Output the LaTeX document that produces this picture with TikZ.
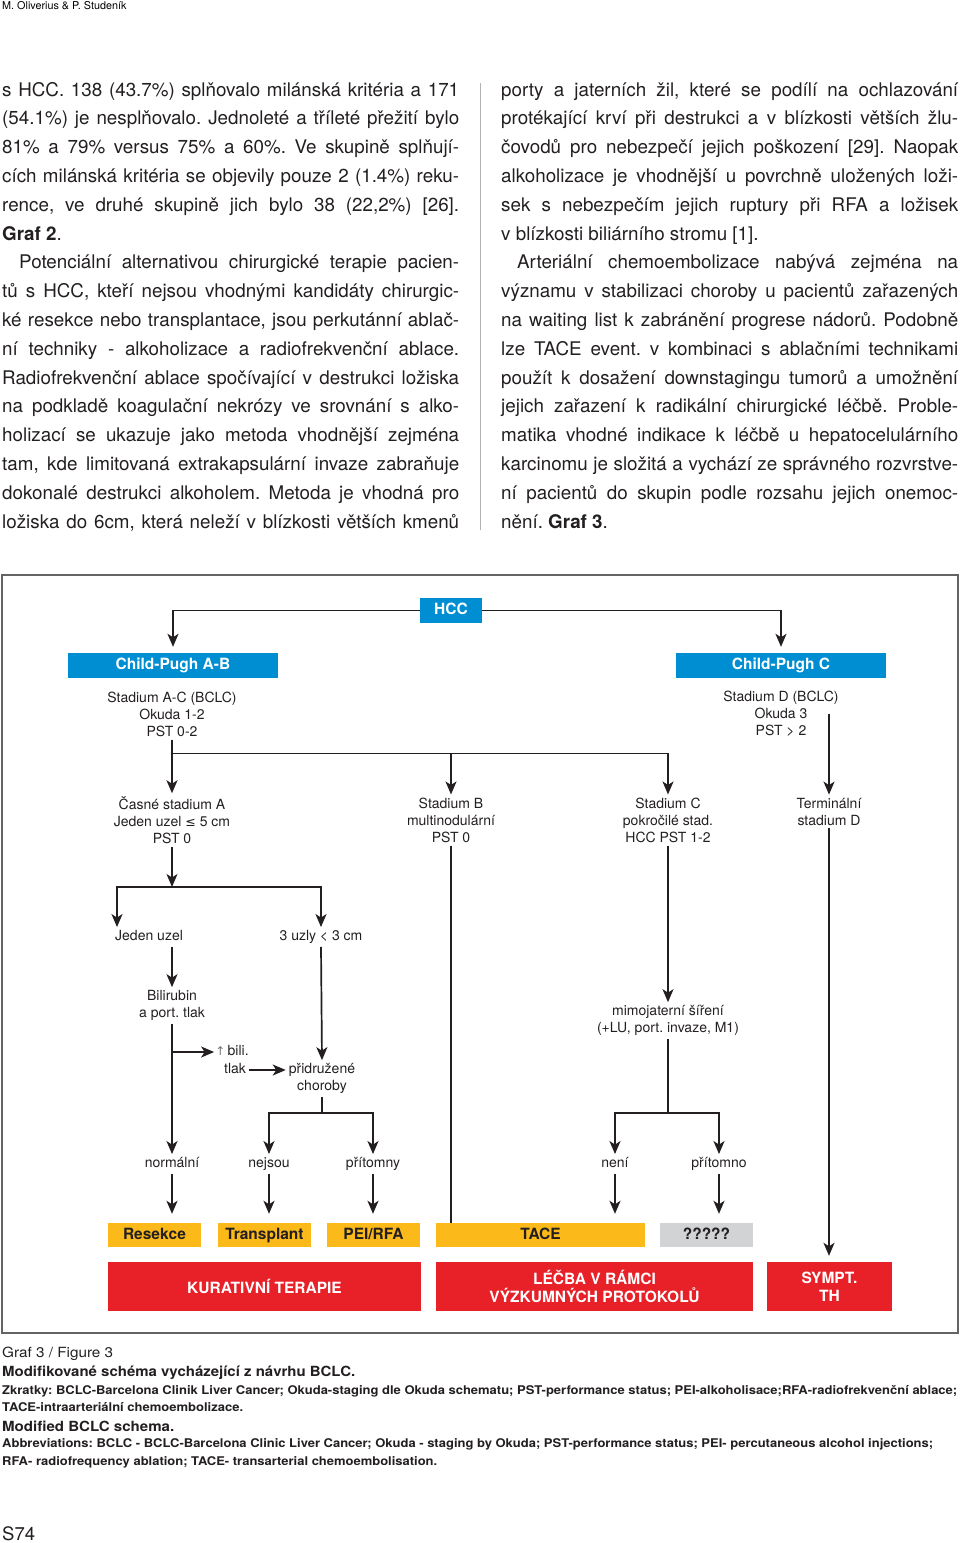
\documentclass[tikz,border=0pt]{standalone}
\usepackage{fontspec}
\setmainfont{TeX Gyre Heros}
\newfontfamily\symfont{DejaVu Sans}
\usepackage{xcolor}
\usepackage{graphicx}
\usetikzlibrary{arrows.meta, positioning, calc}

\definecolor{cpblue}{RGB}{0,142,211}
\definecolor{tyellow}{RGB}{251,185,26}
\definecolor{tred}{RGB}{232,32,40}
\definecolor{tgray}{RGB}{209,211,212}
\definecolor{ink}{RGB}{35,31,32}
\definecolor{framegray}{RGB}{100,100,100}

\newcommand{\fs}[2]{\fontsize{#1}{#2}\selectfont}
\newcommand{\jline}[1]{\makebox[457pt][s]{#1}}
\newcommand{\capline}[2]{\resizebox{#1}{\height}{#2}}
\frenchspacing

\begin{document}
\begin{tikzpicture}[x=1pt, y=-1pt,
  bluebox/.style={fill=cpblue, text=white, font=\bfseries\fs{15.5}{18},
                  minimum height=25pt, inner sep=0pt, text height=11.5pt, text depth=3.5pt},
  tbox/.style={fill=tyellow, text=ink, font=\bfseries\fs{15.5}{18},
               minimum height=24pt, inner sep=0pt, text height=11.5pt, text depth=3.5pt},
  redbox/.style={fill=tred, text=white, font=\bfseries\fs{15.5}{18},
                 minimum height=49pt, inner sep=0pt, align=center},
  lbl/.style={align=center, font=\fs{14}{17}, text=ink, inner sep=3pt},
  onel/.style={lbl, text height=10.5pt, text depth=3pt},
  arr/.style={-{Stealth[length=13pt, width=11pt, inset=3.5pt]}, line width=1.7pt, draw=ink},
  tobox/.style={arr, shorten >=6pt},
  tolow/.style={arr, shorten >=9pt},
  conn/.style={line width=1.7pt, draw=ink},
  body/.style={anchor=base west, inner sep=0pt, font=\fs{18.8}{22}, text=ink},
  captxt/.style={anchor=base west, inner sep=0pt, text=ink},
]
  \useasboundingbox (0,0) rectangle (960,1543);

  % ── Running head and page number ──
  \node[captxt, font=\fs{10.8}{12}, text=black] (runhead) at (2,9) {M. Oliverius \& P. Studeník};
  \node[captxt, font=\fs{18.5}{20}] (folio) at (2,1540) {S74};

  % ── Two text columns ──
  \foreach \txt [count=\i from 0] in {
    {s HCC. 138 (43.7\%) splňovalo milánská kritéria a 171},
    {(54.1\%) je nesplňovalo. Jednoleté a tříleté přežití bylo},
    {81\% a 79\% versus 75\% a 60\%. Ve skupině splňují-},
    {cích milánská kritéria se objevily pouze 2 (1.4\%) reku-},
    {rence, ve druhé skupině jich bylo 38 (22,2\%) [26].},
    {\textbf{Graf 2}.\hfill},
    {\hspace*{17pt}Potenciální alternativou chirurgické terapie pacien-},
    {tů s HCC, kteří nejsou vhodnými kandidáty chirurgic-},
    {ké resekce nebo transplantace, jsou perkutánní ablač-},
    {ní techniky - alkoholizace a radiofrekvenční ablace.},
    {Radiofrekvenční ablace spočívající v destrukci ložiska},
    {na podkladě koagulační nekrózy ve srovnání s alko-},
    {holizací se ukazuje jako metoda vhodnější zejména},
    {tam, kde limitovaná extrakapsulární invaze zabraňuje},
    {dokonalé destrukci alkoholem. Metoda je vhodná pro},
    {ložiska do 6cm, která neleží v blízkosti větších kmenů}}
    \node[body] (lcol\i) at (2,{96+28.8*\i}) {\jline{\txt}};

  \foreach \txt [count=\i from 0] in {
    {porty a jaterních žil, které se podílí na ochlazování},
    {protékající krví při destrukci a v blízkosti větších žlu-},
    {čovodů pro nebezpečí jejich poškození [29]. Naopak},
    {alkoholizace je vhodnější u povrchně uložených loži-},
    {sek s nebezpečím jejich ruptury při RFA a ložisek},
    {v blízkosti biliárního stromu [1].\hfill},
    {\hspace*{16pt}Arteriální chemoembolizace nabývá zejména na},
    {významu v stabilizaci choroby u pacientů zařazených},
    {na waiting list k zabránění progrese nádorů. Podobně},
    {lze TACE event. v kombinaci s ablačními technikami},
    {použít k dosažení downstagingu tumorů a umožnění},
    {jejich zařazení k radikální chirurgické léčbě. Proble-},
    {matika vhodné indikace k léčbě u hepatocelulárního},
    {karcinomu je složitá a vychází ze správného rozvrstve-},
    {ní pacientů do skupin podle rozsahu jejich onemoc-},
    {nění. \textbf{Graf 3}.\hfill}}
    \node[body] (rcol\i) at (501,{96+28.8*\i}) {\jline{\txt}};

  \draw[black!30, line width=0.8pt] (480,83) -- (480,530);

  % ── Figure frame ──
  \node[draw=framegray, line width=1.5pt, minimum width=956pt, minimum height=758pt,
        inner sep=0pt] (frame) at (480,954) {};

  % ── Row 0: HCC and Child-Pugh classes ──
  \node[bluebox, minimum width=62pt]  (hcc)  at (451,610.5) {HCC};
  \node[bluebox, minimum width=210pt] (cpab) at (173,665.5) {Child-Pugh A-B};
  \node[bluebox, minimum width=210pt] (cpc)  at (781,665.5) {Child-Pugh C};

  \node[lbl] (cpabtxt) at (172,714) {Stadium A-C (BCLC)\\Okuda 1-2\\PST 0-2};
  \node[lbl] (cpctxt)  at (781,714) {Stadium D (BCLC)\\Okuda 3\\PST > 2};

  % ── Row 1: stages ──
  \node[lbl] (stA)  at (172,820)   {Časné stadium A\\Jeden uzel {\symfont\fs{12.5}{17}≤} 5 cm\\PST 0};
  \node[lbl] (stB)  at (451,820)   {Stadium B\\multinodulární\\PST 0};
  \node[lbl] (stC)  at (668,820)   {Stadium C\\pokročilé stad.\\HCC PST 1-2};
  \node[lbl] (term) at (829,811.5) {Terminální\\stadium D};

  % ── Row 2: early stage branches ──
  \node[onel, anchor=west] (jeden) at (112,937) {Jeden uzel};
  \node[onel] (uzly)  at (321,937)    {3 uzly < 3 cm};
  \node[lbl]  (bili)  at (172,1005.5) {Bilirubin\\a port. tlak};
  \node[onel, inner sep=1pt] (upbili) at (232,1052) {{\color{black!55}\symfont\fs{12}{12}↑}\,bili.};
  \node[onel, inner sep=3pt] (tlak)   at (235,1070) {tlak};
  \node[lbl]  (prid)  at (322,1078.5) {přidružené\\choroby};
  \node[lbl]  (mimo)  at (668,1020.5) {mimojaterní šíření\\(+LU, port. invaze, M1)};

  \coordinate (fork2) at (172,887);
  \coordinate (fork3) at (322,1113);
  \coordinate (fork4) at (668,1113);

  % ── Row 3: decisions ──
  \node[onel] (normal)   at (172,1164) {normální};
  \node[onel] (nejsou)   at (269,1164) {nejsou};
  \node[onel] (pritomny) at (373,1164) {přítomny};
  \node[onel] (neni)     at (615,1164) {není};
  \node[onel] (pritomno) at (719,1164) {přítomno};

  % ── Row 4: therapies ──
  \node[tbox, minimum width=93pt]  (resekce) at (154.5,1235) {Resekce};
  \node[tbox, minimum width=93pt]  (transpl) at (264.5,1235) {Transplant};
  \node[tbox, minimum width=93pt]  (peirfa)  at (373.5,1235) {PEI/RFA};
  \node[tbox, minimum width=209pt] (tace)    at (540.5,1235) {TACE};
  \node[tbox, fill=tgray, minimum width=93pt] (unk) at (706.5,1235) {?????};

  \node[redbox, minimum width=313pt] (kurat) at (264.5,1286.5) {KURATIVNÍ TERAPIE};
  \node[redbox, minimum width=317pt] (lecba) at (594.5,1286.5) {LÉČBA V RÁMCI\\VÝZKUMNÝCH PROTOKOLŮ};
  \node[redbox, minimum width=125pt] (sympt) at (829.5,1286.5) {SYMPT.\\TH};

  % ══ Arrows ══
  \draw[tobox] (hcc.west) -| (cpab.north);
  \draw[tobox] (hcc.east) -| (cpc.north);

  \draw[arr] (cpabtxt.south) -- ++(0,14) -| (stA.north);
  \draw[arr] (cpabtxt.south) -- ++(0,14) -| (stB.north);
  \draw[arr] (cpabtxt.south) -- ++(0,14) -| (stC.north);
  \draw[arr] (cpctxt.center -| term.north) -- (term.north);

  \draw[arr] (stA.south) -- (fork2);
  \draw[arr] (fork2) -| ([xshift=5pt]jeden.north west);
  \draw[arr] (fork2) -| (uzly.north);

  \draw[arr] (bili.north |- jeden.south) -- (bili.north);
  \draw[arr] (bili.south |- upbili.west) -- (upbili.west);
  \draw[arr] (tlak.east) -- (prid.west |- tlak.east);
  \draw[arr] (uzly.south) -- (prid.north);
  \draw[arr] (bili.south) -- (normal.north);

  \draw[conn] (prid.south) -- (fork3);
  \draw[arr] (fork3) -| (nejsou.north);
  \draw[arr] (fork3) -| (pritomny.north);

  \draw[arr] (stC.south) -- (mimo.north);
  \draw[conn] (mimo.south) -- (fork4);
  \draw[arr] (fork4) -| (neni.north);
  \draw[arr] (fork4) -| (pritomno.north);

  \draw[conn] (stB.south) -- (stB.south |- tace.north);

  \draw[tolow] (normal.south)   -- (normal.south |- resekce.north);
  \draw[tolow] (nejsou.south)   -- (nejsou.south |- transpl.north);
  \draw[tolow] (pritomny.south) -- (pritomny.south |- peirfa.north);
  \draw[tolow] (neni.south)     -- (neni.south |- tace.north);
  \draw[tolow] (pritomno.south) -- (pritomno.south |- unk.north);
  \draw[tobox] (term.south)     -- (term.south |- sympt.north);

  % ── Caption ──
  \node[captxt, font=\fs{14}{16}] (cap1) at (2,1357)
    {\capline{111pt}{Graf 3 / Figure 3}};
  \node[captxt, font=\bfseries\fs{14}{16}] (cap2) at (2,1376)
    {\capline{353pt}{Modifikované schéma vycházející z návrhu BCLC.}};
  \node[captxt, font=\bfseries\fs{12}{14}] (cap3) at (2,1394)
    {\capline{955pt}{Zkratky: BCLC-Barcelona Clinik Liver Cancer; Okuda-staging dle Okuda schematu; PST-performance status; PEI-alkoholisace;RFA-radiofrekvenční ablace;}};
  \node[captxt, font=\bfseries\fs{12}{14}] (cap4) at (2,1411)
    {\capline{241pt}{TACE-intraarteriální chemoembolizace.}};
  \node[captxt, font=\bfseries\fs{14}{16}] (cap5) at (2,1431)
    {\capline{172pt}{Modified BCLC schema.}};
  \node[captxt, font=\bfseries\fs{12}{14}] (cap6) at (2,1447)
    {\capline{931pt}{Abbreviations: BCLC - BCLC-Barcelona Clinic Liver Cancer; Okuda - staging by Okuda; PST-performance status; PEI- percutaneous alcohol injections;}};
  \node[captxt, font=\bfseries\fs{12}{14}] (cap7) at (2,1465)
    {\capline{435pt}{RFA- radiofrequency ablation; TACE- transarterial chemoembolisation.}};

\end{tikzpicture}
\end{document}
